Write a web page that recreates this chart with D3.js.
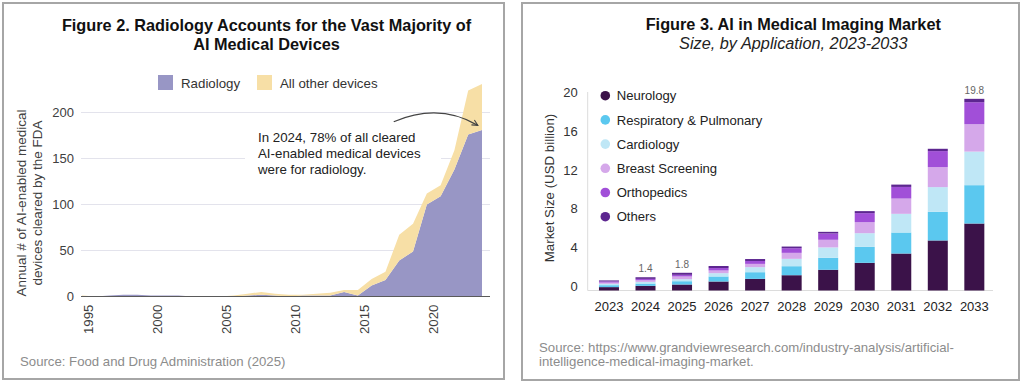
<!DOCTYPE html>
<html>
<head>
<meta charset="utf-8">
<script src="https://cdn.jsdelivr.net/npm/d3@7"></script>
<style>
  body { margin: 0; background: #fff; }
  svg { display: block; font-family: "Liberation Sans", Arial, sans-serif; }
</style>
</head>
<body>
<svg id="chart" width="1024" height="382"></svg>
<script>
// ---- Figure 2 data: annual AI-enabled devices cleared by the FDA
var deviceYears = [1995, 1996, 1997, 1998, 1999, 2000, 2001, 2002, 2003, 2004,
                   2005, 2006, 2007, 2008, 2009, 2010, 2011, 2012, 2013, 2014,
                   2015, 2016, 2017, 2018, 2019, 2020, 2021, 2022, 2023, 2024];
var radiology    = [0, 0, 1, 2, 2, 1, 1, 1, 0, 0,
                    0, 0, 1, 2, 1, 0, 1, 1, 1, 5,
                    1, 12, 18, 39, 49, 100, 109, 138, 176, 181];
var otherDevices = [1, 0, 0, 0, 0, 0, 0, 0, 0, 0,
                    0, 1, 2, 3, 2, 2, 1, 2, 3, 2,
                    6, 7, 9, 28, 30, 12, 12, 21, 48, 50];
var deviceTicksY = [0, 50, 100, 150, 200];
var deviceTicksX = [1995, 2000, 2005, 2010, 2015, 2020];

// ---- Figure 3 data: AI in medical imaging market (USD billion)
var marketYears = ["2023", "2024", "2025", "2026", "2027", "2028", "2029", "2030", "2031", "2032", "2033"];
var neurology   = [0.35, 0.48, 0.62, 0.93, 1.20, 1.58, 2.14, 2.86, 3.82, 5.17, 6.92];
var respiratory = [0.20, 0.24, 0.34, 0.52, 0.69, 0.93, 1.24, 1.65, 2.17, 2.96, 3.96];
var cardiology  = [0.14, 0.17, 0.21, 0.34, 0.52, 0.76, 1.07, 1.41, 1.93, 2.55, 3.47];
var breast      = [0.13, 0.17, 0.28, 0.28, 0.34, 0.62, 0.79, 1.14, 1.58, 2.07, 2.83];
var orthopedics = [0.12, 0.14, 0.17, 0.25, 0.30, 0.48, 0.65, 0.93, 1.20, 1.65, 2.27];
var others      = [0.10, 0.17, 0.21, 0.21, 0.20, 0.17, 0.17, 0.21, 0.24, 0.24, 0.35];
var appNames = ["Neurology", "Respiratory & Pulmonary", "Cardiology", "Breast Screening", "Orthopedics", "Others"];
var marketTicksY = [0, 4, 8, 12, 16, 20];
var labelledYears = ["2024", "2025", "2033"];

var appColors = ["#3b1249", "#5bc8ef", "#bfe7f6", "#d5a8ea", "#a14fd8", "#5d2690"];

var svg = d3.select("#chart");

// panel frames
svg.append("rect").attr("x", 3).attr("y", 3).attr("width", 501).attr("height", 376)
  .attr("fill", "none").attr("stroke", "#a6a6a6").attr("stroke-width", 2);
svg.append("rect").attr("x", 522).attr("y", 3).attr("width", 497).attr("height", 377)
  .attr("fill", "none").attr("stroke", "#a6a6a6").attr("stroke-width", 2);

// ================= Figure 2 =================
var left = svg.append("g");

left.append("text").attr("x", 266.5).attr("y", 31).attr("text-anchor", "middle")
  .attr("font-size", 16.3).attr("font-weight", "bold").attr("fill", "#111")
  .text("Figure 2. Radiology Accounts for the Vast Majority of");
left.append("text").attr("x", 266.5).attr("y", 50).attr("text-anchor", "middle")
  .attr("font-size", 16.3).attr("font-weight", "bold").attr("fill", "#111")
  .text("AI Medical Devices");

var x1 = d3.scaleLinear().domain([1995, 2024]).range([82, 482]);
var y1 = d3.scaleLinear().domain([0, 200]).range([296.5, 112.5]);

// gridlines
left.selectAll(".grid").data(deviceTicksY.slice(1)).enter().append("line")
  .attr("x1", 81).attr("x2", 490)
  .attr("y1", function (d) { return y1(d); }).attr("y2", function (d) { return y1(d); })
  .attr("stroke", "#e3e3ec").attr("stroke-width", 1);

// box behind annotation
left.append("rect").attr("x", 245).attr("y", 123).attr("width", 196).attr("height", 59).attr("fill", "#fff");

var rows = deviceYears.map(function (yr, i) {
  return { year: yr, radiology: radiology[i], other: otherDevices[i] };
});
var stacked = d3.stack().keys(["radiology", "other"])(rows);
var area = d3.area()
  .x(function (d) { return x1(d.data.year); })
  .y0(function (d) { return y1(d[0]); })
  .y1(function (d) { return y1(d[1]); });
var areaColors = { radiology: "#9896c5", other: "#f7dfa6" };

left.selectAll(".layer").data(stacked).enter().append("path")
  .attr("d", area)
  .attr("fill", function (d) { return areaColors[d.key]; });

// baseline
left.append("line").attr("x1", 81).attr("x2", 490).attr("y1", y1(0)).attr("y2", y1(0))
  .attr("stroke", "#5a5a5a").attr("stroke-width", 1.2);

// y axis
var yAx1 = left.append("g").attr("transform", "translate(82,0)")
  .call(d3.axisLeft(y1).tickValues(deviceTicksY).tickSize(0).tickPadding(8));
yAx1.select(".domain").remove();
yAx1.selectAll("text").attr("font-size", 13).attr("fill", "#404040").attr("font-family", null);

// x axis, rotated labels
var xAx1 = left.append("g").attr("transform", "translate(6," + y1(0) + ")")
  .call(d3.axisBottom(x1).tickValues(deviceTicksX).tickFormat(d3.format("d")).tickSize(0));
xAx1.select(".domain").remove();
xAx1.selectAll("text")
  .attr("transform", "rotate(-90)")
  .attr("text-anchor", "end")
  .attr("x", -8).attr("y", 0).attr("dy", "0.35em")
  .attr("font-size", 13.3).attr("fill", "#404040").attr("font-family", null);

// y title
var yt1 = left.append("text").attr("transform", "translate(0,203) rotate(-90)")
  .attr("text-anchor", "middle").attr("font-size", 13.5).attr("fill", "#404040");
yt1.append("tspan").attr("x", 0).attr("y", 26).text("Annual # of AI-enabled medical");
yt1.append("tspan").attr("x", 0).attr("y", 42).text("devices cleared by the FDA");

// legend
var leg1 = [{ key: "radiology", label: "Radiology", x: 158 }, { key: "other", label: "All other devices", x: 257 }];
leg1.forEach(function (l) {
  left.append("rect").attr("x", l.x).attr("y", 75).attr("width", 15).attr("height", 15)
    .attr("fill", areaColors[l.key]);
  left.append("text").attr("x", l.x + 23).attr("y", 87.5).attr("font-size", 13.3)
    .attr("fill", "#333").text(l.label);
});

// annotation
var note = ["In 2024, 78% of all cleared", "AI-enabled medical devices", "were for radiology."];
note.forEach(function (t, i) {
  left.append("text").attr("x", 258).attr("y", 142 + i * 16).attr("font-size", 13.3)
    .attr("fill", "#222").text(t);
});

svg.append("defs").append("marker").attr("id", "arrow")
  .attr("viewBox", "0 0 10 10").attr("refX", 9).attr("refY", 5)
  .attr("markerWidth", 6).attr("markerHeight", 6).attr("orient", "auto")
  .append("path").attr("d", "M1,1 L9,5 L1,9").attr("fill", "none").attr("stroke", "#444").attr("stroke-width", 1.5);

var aStart = [x1(2017.6), y1(190)], aCtrl = [x1(2020.9), y1(211)], aEnd = [x1(2023.7), y1(186)];
left.append("path")
  .attr("d", "M" + aStart + " Q" + aCtrl + " " + aEnd)
  .attr("fill", "none").attr("stroke", "#444").attr("stroke-width", 1.2)
  .attr("marker-end", "url(#arrow)");

left.append("text").attr("x", 20).attr("y", 366).attr("font-size", 13.2).attr("fill", "#8c8c8c")
  .text("Source: Food and Drug Administration (2025)");

// ================= Figure 3 =================
var right = svg.append("g");

right.append("text").attr("x", 793.3).attr("y", 30).attr("text-anchor", "middle")
  .attr("font-size", 16.3).attr("font-weight", "bold").attr("fill", "#111")
  .text("Figure 3. AI in Medical Imaging Market");
right.append("text").attr("x", 793.3).attr("y", 49).attr("text-anchor", "middle")
  .attr("font-size", 16.3).attr("font-style", "italic").attr("fill", "#222")
  .text("Size, by Application, 2023-2033");

var x2 = d3.scaleBand().domain(marketYears).range([590.7, 992.6])
  .paddingInner(0.4525).paddingOuter(0.2263);
var y2 = d3.scaleLinear().domain([0, 20]).range([290.5, 96.9]);

var seriesValues = [neurology, respiratory, cardiology, breast, orthopedics, others];
var marketRows = marketYears.map(function (yr, i) {
  var r = { year: yr };
  appNames.forEach(function (n, j) { r[n] = seriesValues[j][i]; });
  return r;
});
var mStack = d3.stack().keys(appNames)(marketRows);

// axis lines
right.append("line").attr("x1", 587.7).attr("x2", 587.7).attr("y1", 92).attr("y2", y2(0))
  .attr("stroke", "#dcdcdc").attr("stroke-width", 1);
right.append("line").attr("x1", 587.7).attr("x2", 993).attr("y1", y2(0)).attr("y2", y2(0))
  .attr("stroke", "#dcdcdc").attr("stroke-width", 1);

right.selectAll(".series").data(mStack).enter().append("g")
  .attr("fill", function (d, i) { return appColors[i]; })
  .selectAll("rect").data(function (d) { return d; }).enter().append("rect")
  .attr("x", function (d) { return x2(d.data.year); })
  .attr("width", x2.bandwidth())
  .attr("y", function (d) { return y2(d[1]); })
  .attr("height", function (d) { return y2(d[0]) - y2(d[1]); });

// totals
var totals = marketYears.map(function (yr, i) {
  return { year: yr, total: d3.sum(seriesValues, function (s) { return s[i]; }) };
});
right.selectAll(".total").data(totals.filter(function (d) { return labelledYears.indexOf(d.year) >= 0; }))
  .enter().append("text")
  .attr("x", function (d) { return x2(d.year) + x2.bandwidth() / 2; })
  .attr("y", function (d) { return y2(d.total) - 5; })
  .attr("text-anchor", "middle").attr("font-size", 10).attr("fill", "#666")
  .text(function (d) { return d3.format(".1f")(d.total); });

var yAx2 = right.append("g").attr("transform", "translate(587.7,0)")
  .call(d3.axisLeft(y2).tickValues(marketTicksY).tickSize(0).tickPadding(10));
yAx2.select(".domain").remove();
yAx2.selectAll("text").attr("font-size", 13).attr("fill", "#333").attr("font-family", null)
  .attr("transform", "translate(0,-4.5)");

var xAx2 = right.append("g").attr("transform", "translate(0," + y2(0) + ")")
  .call(d3.axisBottom(x2).tickSize(0).tickPadding(11));
xAx2.select(".domain").remove();
xAx2.selectAll("text").attr("font-size", 13).attr("fill", "#222").attr("font-family", null);

right.append("text").attr("transform", "translate(554,188) rotate(-90)")
  .attr("text-anchor", "middle").attr("font-size", 13.3).attr("fill", "#333")
  .text("Market Size (USD billion)");

// legend
appNames.forEach(function (n, i) {
  var cy = 95.7 + i * 24.2;
  right.append("circle").attr("cx", 605.3).attr("cy", cy).attr("r", 4.8).attr("fill", appColors[i]);
  right.append("text").attr("x", 616.7).attr("y", cy + 4.6).attr("font-size", 13.1)
    .attr("fill", "#222").text(n);
});

right.append("text").attr("x", 539).attr("y", 351.5).attr("font-size", 13.2).attr("fill", "#8c8c8c")
  .text("Source: https://www.grandviewresearch.com/industry-analysis/artificial-");
right.append("text").attr("x", 539).attr("y", 366).attr("font-size", 13.2).attr("fill", "#8c8c8c")
  .text("intelligence-medical-imaging-market.");
</script>
</body>
</html>
